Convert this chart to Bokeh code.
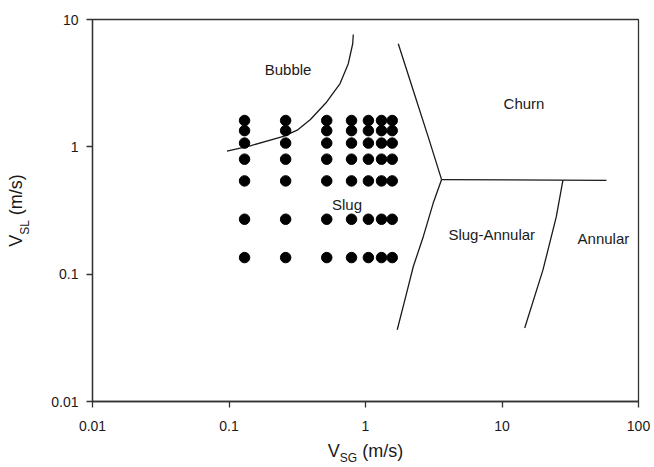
from bokeh.plotting import figure
from bokeh.models import Range1d, Label, FixedTicker, LogAxis
from bokeh.embed import file_html
from bokeh.resources import INLINE

# ---- data ----
vsg_cols = [0.13, 0.26, 0.52, 0.79, 1.05, 1.31, 1.57]
vsl_rows = [0.135, 0.27, 0.54, 0.80, 1.07, 1.34, 1.61]

bubble_x = [0.0966, 0.143, 0.2505, 0.316, 0.395, 0.520, 0.651, 0.748, 0.806, 0.814]
bubble_y = [0.925, 1.018, 1.21, 1.351, 1.639, 2.25, 3.14, 4.50, 6.45, 7.63]

churn_x = [1.738, 2.236, 2.88, 3.61]
churn_y = [6.45, 2.78, 1.197, 0.553]

slugann_x = [3.61, 3.13, 2.65, 2.24, 2.00, 1.708]
slugann_y = [0.553, 0.360, 0.197, 0.1148, 0.0710, 0.0366]

horiz_x = [3.61, 58.3]
horiz_y = [0.553, 0.545]

annular_x = [27.95, 25.0, 19.96, 14.67]
annular_y = [0.547, 0.283, 0.108, 0.0378]

region_names = ["Bubble", "Slug", "Slug-Annular", "Churn", "Annular"]
region_x = [0.271, 0.732, 8.41, 14.5, 55.3]
region_y = [4.04, 0.354, 0.206, 2.19, 0.189]

x_ticks = [0.01, 0.1, 1, 10, 100]
y_ticks = [0.01, 0.1, 1, 10]
x_tick_labels = ["0.01", "0.1", "1", "10", "100"]
y_tick_labels = ["0.01", "0.1", "1", "10"]

x_title = ["V", "SG", "(m/s)"]
y_title = ["V", "SL", "(m/s)"]

FONT = "Liberation Sans"
TXT = "#1a1a1a"
LINE = "#1a1a1a"
AX = "#333333"

XMIN, XMAX, YMIN, YMAX = 0.01, 100, 0.01, 10
p = figure(width=654, height=467, x_axis_type="log", y_axis_type="log",
           x_range=Range1d(XMIN, XMAX), y_range=Range1d(YMIN, YMAX),
           output_backend="svg", toolbar_location=None,
           min_border_left=92, min_border_right=16, min_border_top=19,
           min_border_bottom=65)
p.grid.visible = False
p.outline_line_color = AX
p.outline_line_width = 1.3
p.background_fill_color = "white"
p.border_fill_color = "white"

for ax, ticks, labels in ((p.xaxis[0], x_ticks, x_tick_labels), (p.yaxis[0], y_ticks, y_tick_labels)):
    ax.ticker = FixedTicker(ticks=ticks)
    ax.major_label_overrides = {t: l for t, l in zip(ticks, labels)}
    ax.minor_tick_line_color = None
    ax.major_tick_in = 0
    ax.major_tick_out = 6
    ax.axis_line_color = AX
    ax.axis_line_width = 1.3
    ax.major_tick_line_color = AX
    ax.major_tick_line_width = 1.3
    ax.major_label_text_font = FONT
    ax.major_label_text_font_size = "14px"
    ax.major_label_text_color = TXT
p.xaxis[0].major_label_standoff = 13
p.yaxis[0].major_label_standoff = 8

# boundaries
for xs, ys in ((bubble_x, bubble_y), (churn_x, churn_y), (slugann_x, slugann_y),
               (horiz_x, horiz_y), (annular_x, annular_y)):
    p.line(xs, ys, line_color=LINE, line_width=1.3, line_join="round")

# data points (full grid)
px = [x for x in vsg_cols for y in vsl_rows]
py = [y for x in vsg_cols for y in vsl_rows]
p.scatter(px, py, size=10.5, fill_color="black", line_color="black")

# region labels
for name, x, y in zip(region_names, region_x, region_y):
    p.add_layout(Label(x=x, y=y, text=name, text_font=FONT, text_font_size="15px",
                       text_align="center", text_baseline="middle", text_color=TXT))

# ---- axis titles with subscripts, built from label-only axes ----
FW, FH = 546.0, 383.0
BIG, SMALL = 18, 12
w_V = 0.667 * BIG
w_sp = 0.278 * BIG
w_ms = 2.277 * BIG
w_SG = (0.667 + 0.778) * SMALL
w_SL = (0.667 + 0.556) * SMALL


def xdata(px_):
    return 10 ** (-2 + 4 * px_ / FW)


def ydata(py_):
    return 10 ** (-2 + 3 * py_ / FH)


def label_axis(ticks, labels, size, standoff, vertical=False):
    ax = LogAxis(ticker=FixedTicker(ticks=ticks),
                 major_label_overrides={t: l for t, l in zip(ticks, labels)},
                 axis_line_color=None, major_tick_line_color=None,
                 minor_tick_line_color=None, major_tick_in=0, major_tick_out=0,
                 major_label_text_font=FONT, major_label_text_font_size=f"{size}px",
                 major_label_text_color=TXT, major_label_standoff=standoff)
    if vertical:
        ax.major_label_orientation = "vertical"
    return ax


# x title: main row, then subscript row pulled back up
tot = w_V + w_SG + w_sp + w_ms
x0 = FW / 2 - tot / 2
xV = xdata(x0 + w_V / 2)
xSG = xdata(x0 + w_V + w_SG / 2)
xMS = xdata(x0 + w_V + w_SG + w_sp + w_ms / 2)
xa = label_axis([xV, xMS], [x_title[0], x_title[2]], BIG, 7)
xb = label_axis([xSG], [x_title[1]], SMALL, -13)
p.add_layout(xa, "below")
p.add_layout(xb, "below")

# y title
tot = w_V + w_SL + w_sp + w_ms
y0 = FH / 2 - tot / 2
yV = ydata(y0 + w_V / 2)
ySL = ydata(y0 + w_V + w_SL / 2)
yMS = ydata(y0 + w_V + w_SL + w_sp + w_ms / 2)
yb = label_axis([ySL], [y_title[1]], SMALL, 16, vertical=True)
ya = label_axis([yV, yMS], [y_title[0], y_title[2]], BIG, -11, vertical=True)
p.add_layout(yb, "left")
p.add_layout(ya, "left")

open("out.html", "w").write(file_html(p, INLINE))
